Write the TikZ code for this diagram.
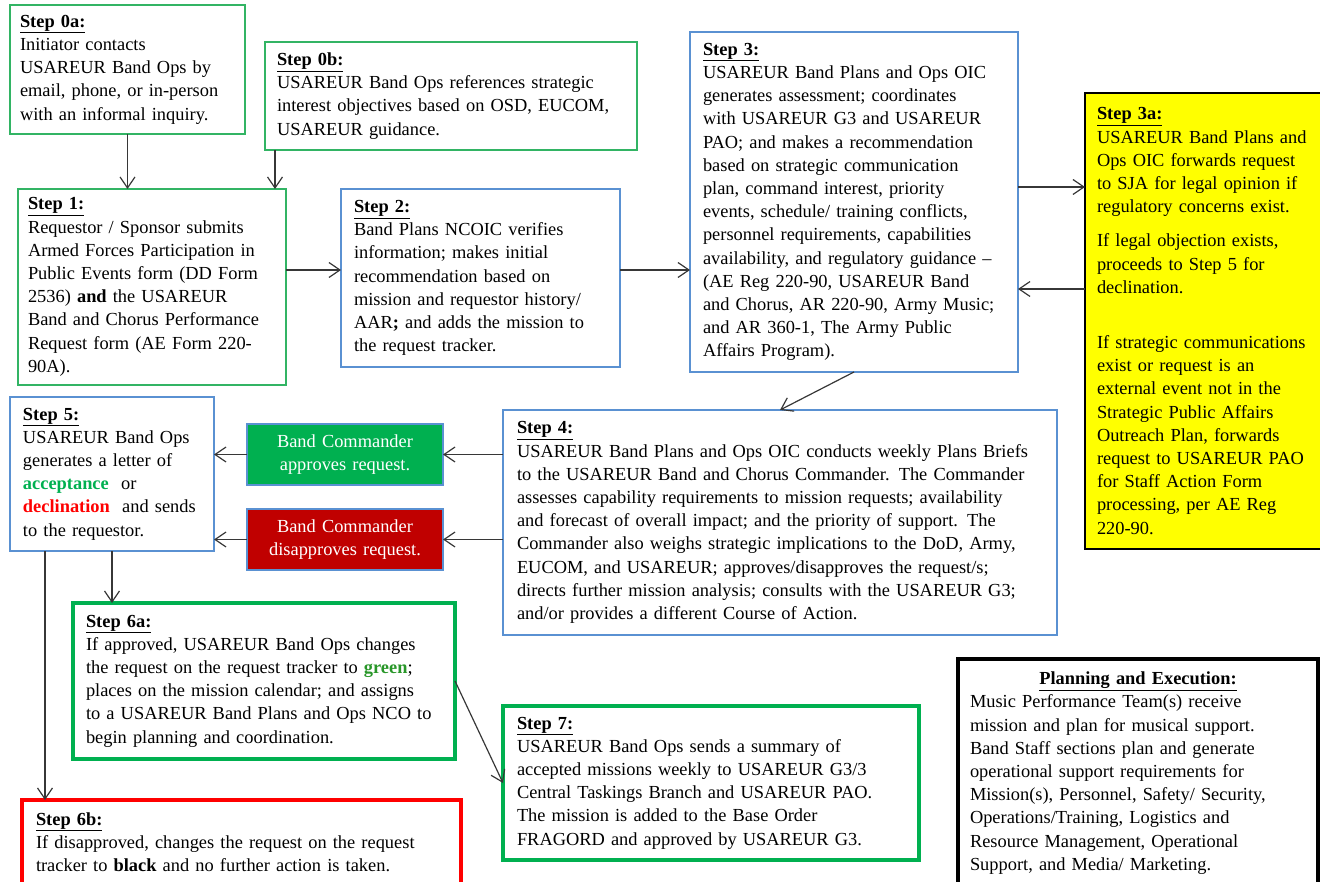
\documentclass[tikz,border=0pt]{standalone}
\usepackage{fontspec}
\setmainfont{Liberation Serif}
\usetikzlibrary{arrows.meta}

\definecolor{linegreen}{RGB}{50,180,100}
\definecolor{lineblue}{RGB}{90,145,210}
\definecolor{fillgreen}{RGB}{0,176,80}
\definecolor{fillred}{RGB}{192,0,0}
\definecolor{declred}{RGB}{255,0,0}
\definecolor{trackgreen}{RGB}{40,150,40}
\definecolor{flowgray}{RGB}{55,55,55}
\definecolor{legalyellow}{RGB}{255,255,0}

\newcommand{\stephead}[1]{\underline{\textbf{#1}}}

\begin{document}
\begin{tikzpicture}[x=1pt,y=-1pt,
    >={Straight Barb[length=11pt,width=15pt]},
    every node/.style={anchor=north west,align=left,inner ysep=0pt,outer sep=0pt,
      font=\fontsize{18.4}{23.2}\selectfont},
    thingreen/.style={draw=linegreen,line width=1.3pt,inner xsep=10pt},
    thinblue/.style={draw=lineblue,line width=1.3pt,inner xsep=13pt},
    thickgreen/.style={draw=fillgreen,line width=3.6pt,inner xsep=14pt},
    thickred/.style={draw=red,line width=4pt,inner xsep=14pt},
    legalbox/.style={draw=black,fill=legalyellow,line width=1.3pt,inner xsep=12pt},
    decision/.style={draw=lineblue,line width=1.2pt,fill=#1,text=white,align=center,
      text width=196pt,inner xsep=0pt,minimum height=61pt},
    planbox/.style={draw=black,line width=4.5pt,inner xsep=12pt},
    flow/.style={->,draw=flowgray,line width=1.2pt}]

  \useasboundingbox (0,0) rectangle (1320,882);

  % request intake
  \node[thingreen,text width=215pt,minimum height=129pt] (s0a) at (10,5) {\stephead{Step 0a:}\\
    Initiator contacts\\
    USAREUR Band Ops by\\
    email, phone, or in-person\\
    with an informal inquiry.};
  \node[thingreen,inner xsep=12pt,text width=348pt,minimum height=108pt] (s0b) at (265,42) {\stephead{Step 0b:}\\
    USAREUR Band Ops references strategic\\
    interest objectives based on OSD, EUCOM,\\
    USAREUR guidance.};
  \node[thingreen,text width=248pt,minimum height=196pt] (s1) at (18,189) {\stephead{Step 1:}\\
    Requestor / Sponsor submits\\
    Armed Forces Participation in\\
    Public Events form (DD Form\\
    2536) \textbf{and} the USAREUR\\
    Band and Chorus Performance\\
    Request form (AE Form 220-\\
    90A).};
  \node[thinblue,text width=253pt,minimum height=178pt] (s2) at (341,189) {\stephead{Step 2:}\\
    Band Plans NCOIC verifies\\
    information; makes initial\\
    recommendation based on\\
    mission and requestor history/\\
    AAR\textbf{;} and adds the mission to\\
    the request tracker.};

  % assessment
  \node[thinblue,text width=302pt,minimum height=340pt] (s3) at (690,32) {\stephead{Step 3:}\\
    USAREUR Band Plans and Ops OIC\\
    generates assessment; coordinates\\
    with USAREUR G3 and USAREUR\\
    PAO; and makes a recommendation\\
    based on strategic communication\\
    plan, command interest, priority\\
    events, schedule/ training conflicts,\\
    personnel requirements, capabilities\\
    availability, and regulatory guidance --\\
    (AE Reg 220-90, USAREUR Band\\
    and Chorus, AR 220-90, Army Music;\\
    and AR 360-1, The Army Public\\
    Affairs Program).};
  \node[legalbox,text width=226pt,minimum height=456pt] (s3a) at (1085,93) {\stephead{Step 3a:}\\
    USAREUR Band Plans and\\
    Ops OIC forwards request\\
    to SJA for legal opinion if\\
    regulatory concerns exist.\\[11pt]
    If legal objection exists,\\
    proceeds to Step 5 for\\
    declination.\\[32pt]
    If strategic communications\\
    exist or request is an\\
    external event not in the\\
    Strategic Public Affairs\\
    Outreach Plan, forwards\\
    request to USAREUR PAO\\
    for Staff Action Form\\
    processing, per AE Reg\\
    220-90.};

  % commander decision
  \node[thinblue,inner xsep=14pt,text width=526pt,minimum height=225pt] (s4) at (503,410) {\stephead{Step 4:}\\
    USAREUR Band Plans and Ops OIC conducts weekly Plans Briefs\\
    to the USAREUR Band and Chorus Commander. The Commander\\
    assesses capability requirements to mission requests; availability\\
    and forecast of overall impact; and the priority of support. The\\
    Commander also weighs strategic implications to the DoD, Army,\\
    EUCOM, and USAREUR; approves/disapproves the request/s;\\
    directs further mission analysis; consults with the USAREUR G3;\\
    and/or provides a different Course of Action.};
  \node[decision=fillgreen] (ok) at (247,424) {Band Commander\\approves request.};
  \node[decision=fillred] (nok) at (247,509) {Band Commander\\disapproves request.};
  \node[thinblue,text width=178pt,minimum height=154pt] (s5) at (10,397) {\stephead{Step 5:}\\
    USAREUR Band Ops\\
    generates a letter of\\
    \textcolor{fillgreen}{\textbf{acceptance}}\ \ or\\
    \textcolor{declred}{\textbf{declination}}\ \ and sends\\
    to the requestor.};

  % outcome
  \node[thickgreen,inner xsep=13pt,text width=356pt,minimum height=156pt] (s6a) at (73,603) {\stephead{Step 6a:}\\
    If approved, USAREUR Band Ops changes\\
    the request on the request tracker to \textcolor{trackgreen}{\textbf{green}};\\
    places on the mission calendar; and assigns\\
    to a USAREUR Band Plans and Ops NCO to\\
    begin planning and coordination.};
  \node[thickred,text width=411pt,minimum height=84pt] (s6b) at (22,800) {\stephead{Step 6b:}\\
    If disapproved, changes the request on the request\\
    tracker to \textbf{black} and no further action is taken.};
  \node[thickgreen,text width=388pt,minimum height=154pt] (s7) at (503,706) {\stephead{Step 7:}\\
    USAREUR Band Ops sends a summary of\\
    accepted missions weekly to USAREUR G3/3\\
    Central Taskings Branch and USAREUR PAO.\\
    The mission is added to the Base Order\\
    FRAGORD and approved by USAREUR G3.};
  \node[planbox,text width=336pt,minimum height=228pt] (plan) at (958,659) {%
    \makebox[\hsize]{\stephead{Planning and Execution:}}\\
    Music Performance Team(s) receive\\
    mission and plan for musical support.\\
    Band Staff sections plan and generate\\
    operational support requirements for\\
    Mission(s), Personnel, Safety/ Security,\\
    Operations/Training, Logistics and\\
    Resource Management, Operational\\
    Support, and Media/ Marketing.};

  % connectors
  \coordinate (b0) at ([xshift=10pt]s0b.south west);
  \coordinate (r12) at ([yshift=8pt]s2.west);
  \coordinate (r33) at ([yshift=15pt]s3.east);
  \coordinate (l33) at ([yshift=-87pt]s3.east);
  \coordinate (d5) at ([xshift=-67pt]s5.south);

  \draw[flow] (s0a.south) -- (s0a.south |- s1.north);
  \draw[flow] (b0) -- (b0 |- s1.north);
  \draw[flow] (s1.east |- r12) -- (r12);
  \draw[flow] (s2.east |- r12) -- (s3.west |- r12);
  \draw[flow] (r33) -- (s3a.west |- r33);
  \draw[flow] (s3a.west |- l33) -- (l33);
  \draw[flow] (s3.south) -- (s4.north);
  \draw[flow] (s4.west |- ok.east) -- (ok.east);
  \draw[flow] (s4.west |- nok.east) -- (nok.east);
  \draw[flow] (ok.west) -- (s5.east |- ok.west);
  \draw[flow] (nok.west) -- (s5.east |- nok.west);
  \draw[flow] (s5.south) -- (s5.south |- s6a.north);
  \draw[flow] (d5) -- (d5 |- s6b.north);
  \draw[flow] (s6a.east) -- (s7.west);
\end{tikzpicture}
\end{document}
